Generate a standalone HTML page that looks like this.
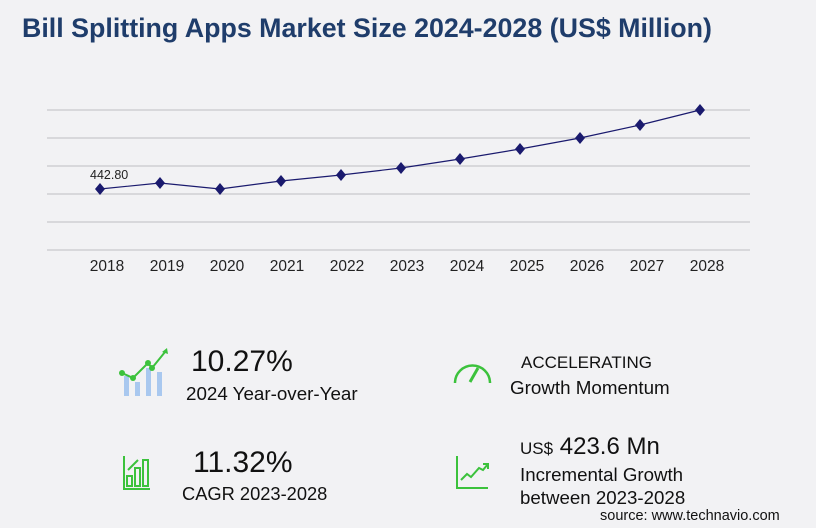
<!DOCTYPE html>
<html><head><meta charset="utf-8"><style>
body{margin:0;width:816px;height:528px;background:#f2f2f4;font-family:"Liberation Sans",sans-serif;position:relative;overflow:hidden}
.t{position:absolute;white-space:nowrap;color:#111}
</style></head><body>
<div class="t" style="left:22px;top:13px;font-size:26.8px;font-weight:bold;color:#1f3d6b">Bill Splitting Apps Market Size 2024-2028 (US$ Million)</div>
<svg width="816" height="528" style="position:absolute;left:0;top:0">
<g stroke="#c8c8cc" stroke-width="1.2">
<line x1="47" x2="750" y1="110" y2="110"/><line x1="47" x2="750" y1="138" y2="138"/><line x1="47" x2="750" y1="166" y2="166"/><line x1="47" x2="750" y1="194" y2="194"/><line x1="47" x2="750" y1="222" y2="222"/><line x1="47" x2="750" y1="250" y2="250"/>
</g>
<polyline fill="none" stroke="#1a1a6e" stroke-width="1.2" points="100,189 160,183 220,189 281,181 341,175 401,168 460,159 520,149 580,138 640,125 700,110"/>
<g fill="#1a1a6e">
<path d="M100,183l5,6l-5,6l-5,-6z"/><path d="M160,177l5,6l-5,6l-5,-6z"/><path d="M220,183l5,6l-5,6l-5,-6z"/><path d="M281,175l5,6l-5,6l-5,-6z"/><path d="M341,169l5,6l-5,6l-5,-6z"/><path d="M401,162l5,6l-5,6l-5,-6z"/><path d="M460,153l5,6l-5,6l-5,-6z"/><path d="M520,143l5,6l-5,6l-5,-6z"/><path d="M580,132l5,6l-5,6l-5,-6z"/><path d="M640,119l5,6l-5,6l-5,-6z"/><path d="M700,104l5,6l-5,6l-5,-6z"/>
</g>
<text x="90" y="179" font-size="12.5" fill="#222" font-family="Liberation Sans">442.80</text>
<g font-size="15.5" fill="#222" font-family="Liberation Sans" text-anchor="middle">
<text x="107" y="271">2018</text><text x="167" y="271">2019</text><text x="227" y="271">2020</text><text x="287" y="271">2021</text><text x="347" y="271">2022</text><text x="407" y="271">2023</text><text x="467" y="271">2024</text><text x="527" y="271">2025</text><text x="587" y="271">2026</text><text x="647" y="271">2027</text><text x="707" y="271">2028</text>
</g>
<g fill="#a9c8ef"><rect x="124" y="376" width="5" height="20"/><rect x="135" y="382" width="5" height="14"/><rect x="146" y="368" width="5" height="28"/><rect x="157" y="372" width="5" height="24"/></g>
<polyline fill="none" stroke="#3cc23c" stroke-width="2" points="122,373 133,378 148,363 152,368 165,352"/>
<g fill="#3cc23c"><circle cx="122" cy="373" r="3"/><circle cx="133" cy="378" r="3"/><circle cx="148" cy="363" r="3"/><circle cx="152" cy="368" r="3"/><path d="M162,352l5,-4l1,6z"/></g>
<path d="M455,383 A17,17 0 1 1 490,383" fill="none" stroke="#3cc23c" stroke-width="2.5"/>
<line x1="478" y1="368" x2="470" y2="382" stroke="#3cc23c" stroke-width="3"/>
<g fill="none" stroke="#3cc23c" stroke-width="2"><path d="M124,456v33h26"/><path d="M128,470l10,-10"/><rect x="127" y="476" width="5" height="10"/><rect x="135" y="468" width="5" height="18"/><rect x="143" y="460" width="5" height="26"/></g>
<g fill="none" stroke="#3cc23c" stroke-width="2"><path d="M457,456v32h31"/><path d="M461,480l6,-6l4,3l8,-9l4,2l5,-6"/><path d="M483,464h5v5"/></g>
</svg>
<div class="t" style="left:191px;top:345px;font-size:30px">10.27%</div>
<div class="t" style="left:186px;top:383px;font-size:18.8px">2024 Year-over-Year</div>
<div class="t" style="left:521px;top:353px;font-size:17px">ACCELERATING</div>
<div class="t" style="left:510px;top:377px;font-size:18.8px">Growth Momentum</div>
<div class="t" style="left:193px;top:446px;font-size:30px">11.32%</div>
<div class="t" style="left:182px;top:483px;font-size:18.3px">CAGR 2023-2028</div>
<div class="t" style="left:520px;top:433px;font-size:24px"><span style="font-size:17px">US$</span> 423.6 Mn</div>
<div class="t" style="left:520px;top:464px;font-size:18.7px">Incremental Growth</div>
<div class="t" style="left:520px;top:487px;font-size:18.7px">between 2023-2028</div>
<div class="t" style="left:600px;top:508px;font-size:14.5px">source: www.technavio.com</div>
</body></html>
